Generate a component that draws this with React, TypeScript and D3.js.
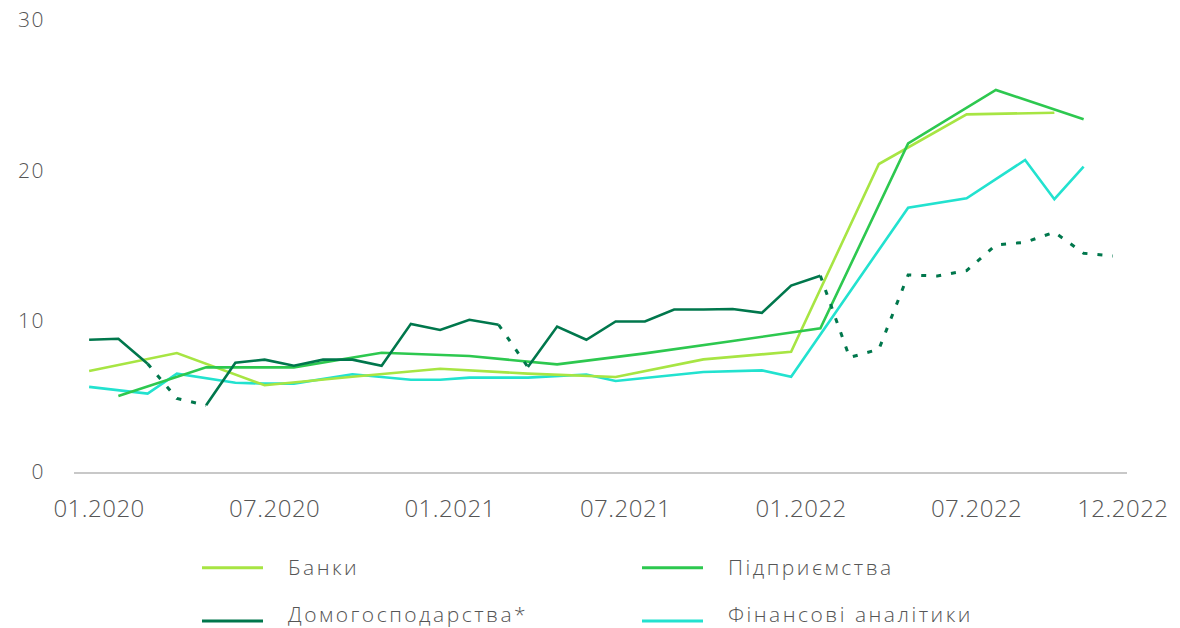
import React from "react";
import * as d3 from "d3";

const monthLabels = [
  "01.2020","02.2020","03.2020","04.2020","05.2020","06.2020","07.2020","08.2020","09.2020","10.2020","11.2020","12.2020",
  "01.2021","02.2021","03.2021","04.2021","05.2021","06.2021","07.2021","08.2021","09.2021","10.2021","11.2021","12.2021",
  "01.2022","02.2022","03.2022","04.2022","05.2022","06.2022","07.2022","08.2022","09.2022","10.2022","11.2022","12.2022",
];
const xTickLabels = ["01.2020", "07.2020", "01.2021", "07.2021", "01.2022", "07.2022", "12.2022"];
const yTicks = [0, 10, 20, 30];

// Банки (quarterly)
const banksMonths = [0, 3, 6, 9, 12, 15, 18, 21, 24, 27, 30, 33];
const banksValues = [6.78, 7.97, 5.83, 6.4, 6.93, 6.6, 6.38, 7.55, 8.05, 20.53, 23.83, 23.94];

// Підприємства (quarterly)
const firmsMonths = [1, 4, 7, 10, 13, 16, 19, 22, 25, 28, 31, 34];
const firmsValues = [5.12, 7.02, 7.02, 7.99, 7.77, 7.22, 7.95, 8.77, 9.61, 21.9, 25.45, 23.5];

// Домогосподарства* (monthly)
const householdsValues = [
  8.85, 8.92, 7.26, 4.95, 4.5, 7.33, 7.53, 7.13, 7.53, 7.53, 7.13, 9.91,
  9.5, 10.18, 9.85, 7.04, 9.73, 8.85, 10.07, 10.07, 10.86, 10.86, 10.9, 10.64,
  12.45, 13.1, 7.68, 8.22, 13.16, 13.09, 13.45, 15.15, 15.33, 16.0, 14.6, 14.42,
];
// segments drawn dotted: [from month, to month]
const householdsDotted: [number, number][] = [[2, 4], [14, 15], [25, 35]];

// Фінансові аналітики
const analystsMonths = [0, 2, 3, 5, 6, 7, 9, 11, 12, 13, 15, 17, 18, 21, 23, 24, 28, 30, 32, 33, 34];
const analystsValues = [5.72, 5.28, 6.6, 6.0, 5.94, 5.94, 6.56, 6.2, 6.2, 6.34, 6.34, 6.54, 6.11, 6.71, 6.82, 6.4, 17.63, 18.25, 20.8, 18.19, 20.35];

const C_BANKS = "#a7e543";
const C_FIRMS = "#2dc84f";
const C_HOUSE = "#00774c";
const C_ANALYST = "#22e2cf";

const FONT = "'Open Sans', 'DejaVu Sans', sans-serif";
const TEXT = "#555555";

export default function App() {
  const W = 1180, H = 628;
  const x = d3.scaleBand<string>().domain(monthLabels).range([74.5, 1127.5]);
  const xc = (i: number) => (x(monthLabels[i]) as number) + x.bandwidth() / 2;
  const y = d3.scaleLinear().domain([0, 30]).range([473, 21.5]);

  type P = [number, number];
  const line = d3.line<P>().x((d) => xc(d[0])).y((d) => y(d[1]));

  const banks: P[] = banksMonths.map((m, i) => [m, banksValues[i]]);
  const firms: P[] = firmsMonths.map((m, i) => [m, firmsValues[i]]);
  const analysts: P[] = analystsMonths.map((m, i) => [m, analystsValues[i]]);
  const house: P[] = householdsValues.map((v, i) => [i, v]);

  const isDotted = (i: number) => householdsDotted.some(([a, b]) => i >= a && i < b);
  const houseSegs: { pts: P[]; dotted: boolean }[] = [];
  for (let i = 0; i < house.length - 1; i++) {
    const d = isDotted(i);
    const last = houseSegs[houseSegs.length - 1];
    if (last && last.dotted === d) last.pts.push(house[i + 1]);
    else houseSegs.push({ pts: [house[i], house[i + 1]], dotted: d });
  }

  const legend = [
    { label: "Банки", color: C_BANKS, lx: 202, ly: 567.7, ty: 575 },
    { label: "Підприємства", color: C_FIRMS, lx: 642, ly: 567.7, ty: 575 },
    { label: "Домогосподарства*", color: C_HOUSE, lx: 202, ly: 621, ty: 621.5 },
    { label: "Фінансові аналітики", color: C_ANALYST, lx: 642, ly: 621, ty: 621.5 },
  ];

  return (
    <svg width={W} height={H} style={{ position: "absolute", left: 0, top: 0, background: "#fff" }}>
      <line x1={74} x2={1127} y1={y(0)} y2={y(0)} stroke="#c8c8c8" strokeWidth={2} />
      {yTicks.map((t) => (
        <text key={t} x={45} y={y(t) - 2} dy="0.36em" textAnchor="end" fontFamily={FONT} fontSize={21}
          fill={TEXT} fontWeight={300} letterSpacing={1.5}>{t}</text>
      ))}
      {xTickLabels.map((l) => (
        <text key={l} x={xc(monthLabels.indexOf(l)) + 10} y={516.5} textAnchor="middle" fontFamily={FONT}
          fontSize={24} fill={TEXT} fontWeight={300} letterSpacing={0.5}>{l}</text>
      ))}
      <path d={line(analysts) ?? ""} fill="none" stroke={C_ANALYST} strokeWidth={2.6} />
      <path d={line(banks) ?? ""} fill="none" stroke={C_BANKS} strokeWidth={2.6} />
      <path d={line(firms) ?? ""} fill="none" stroke={C_FIRMS} strokeWidth={2.6} />
      {houseSegs.map((s, k) => (
        <path key={k} d={line(s.pts) ?? ""} fill="none" stroke={C_HOUSE}
          strokeWidth={s.dotted ? 3 : 2.6} strokeDasharray={s.dotted ? "5 10" : undefined} />
      ))}
      {legend.map((g) => (
        <g key={g.label}>
          <line x1={g.lx} x2={g.lx + 61} y1={g.ly} y2={g.ly} stroke={g.color} strokeWidth={3} />
          <text x={g.lx + 86} y={g.ty} fontFamily={FONT} fontSize={21} fill={TEXT} fontWeight={300}
            letterSpacing={2.5}>{g.label}</text>
        </g>
      ))}
    </svg>
  );
}
